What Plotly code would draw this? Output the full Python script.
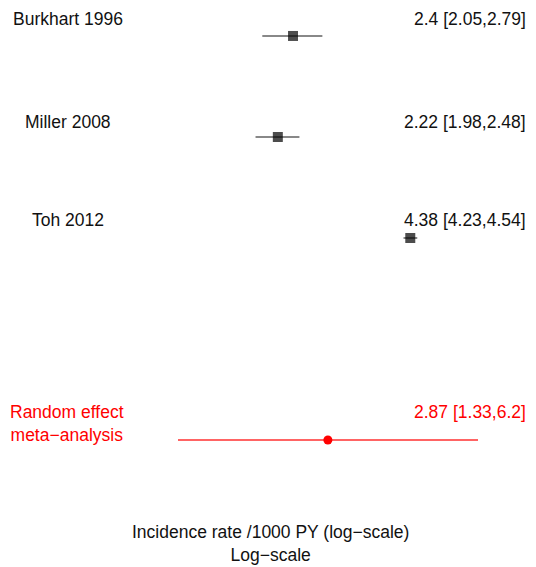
import plotly.graph_objects as go

# Study-level incidence rates (per 1000 person-years) with 95% CIs
studies = ["Burkhart 1996", "Miller 2008", "Toh 2012"]
rates = [2.4, 2.22, 4.38]
lower = [2.05, 1.98, 4.23]
upper = [2.79, 2.48, 4.54]
rows = [0, 1, 2]

# Pooled random-effects estimate
pooled_label = "Random effect<br>meta\u2212analysis"
pooled_rate = 2.87
pooled_lower = 1.33
pooled_upper = 6.2
pooled_row = 4

marker_sizes = [10, 10, 10]

def fmt(est, lo, hi):
    return f"{est:g} [{lo:g},{hi:g}]"

def segments(lows, highs, ys):
    xs, yy = [], []
    for lo, hi, y in zip(lows, highs, ys):
        xs += [lo, hi, None]
        yy += [y, y, None]
    return xs, yy

fig = go.Figure()

# Confidence-interval whiskers first, so the point estimates sit on top
wx, wy = segments(lower, upper, rows)
fig.add_trace(go.Scatter(x=wx, y=wy, mode="lines",
                         line=dict(color="#606060", width=1.5),
                         showlegend=False, hoverinfo="skip"))
px_, py_ = segments([pooled_lower], [pooled_upper], [pooled_row])
fig.add_trace(go.Scatter(x=px_, y=py_, mode="lines",
                         line=dict(color="#ff3030", width=1.5),
                         showlegend=False, hoverinfo="skip"))

fig.add_trace(go.Scatter(
    x=rates, y=rows, mode="markers",
    marker=dict(symbol="square", size=marker_sizes, color="black",
                line=dict(width=0)),
    showlegend=False, hoverinfo="skip",
))
fig.add_trace(go.Scatter(
    x=[pooled_rate], y=[pooled_row], mode="markers",
    marker=dict(symbol="circle", size=9, color="#ff0000", line=dict(width=0)),
    showlegend=False, hoverinfo="skip",
))

font = dict(family="Liberation Sans, Arial, sans-serif", size=17.5, color="#111111")
red_font = dict(font, color="#ff0000")

annotations = []
label_shift = [17, 15, 18]
for name, est, lo, hi, r, s in zip(studies, rates, lower, upper, rows, label_shift):
    annotations.append(dict(x=67.5 / 536, xref="paper", y=r, yref="y", text=name,
                            showarrow=False, xanchor="center", yanchor="middle",
                            yshift=s, font=font))
    annotations.append(dict(x=528 / 536, xref="paper", y=r, yref="y",
                            text=fmt(est, lo, hi), showarrow=False,
                            xanchor="right", yanchor="middle", yshift=s, font=font))

annotations.append(dict(x=66.5 / 536, xref="paper", y=pooled_row, yref="y",
                        text=pooled_label, showarrow=False, xanchor="center",
                        yanchor="middle", yshift=17, font=red_font))
annotations.append(dict(x=528 / 536, xref="paper", y=pooled_row, yref="y",
                        text=fmt(pooled_rate, pooled_lower, pooled_upper),
                        showarrow=False, xanchor="right", yanchor="middle",
                        yshift=28, font=red_font))

annotations.append(dict(x=270 / 536, xref="paper", y=1 - 543 / 567, yref="paper",
                        text="Incidence rate /1000 PY (log\u2212scale)<br>Log\u2212scale",
                        showarrow=False, xanchor="center", yanchor="middle",
                        font=font))

fig.update_layout(
    width=536, height=567,
    margin=dict(l=0, r=0, t=0, b=0),
    paper_bgcolor="white", plot_bgcolor="white",
    xaxis=dict(type="log", range=[-0.2727, 0.9216], visible=False, fixedrange=True),
    yaxis=dict(range=[5.257, -0.356], visible=False, fixedrange=True),
    annotations=annotations,
)

fig.write_html("out.html")
